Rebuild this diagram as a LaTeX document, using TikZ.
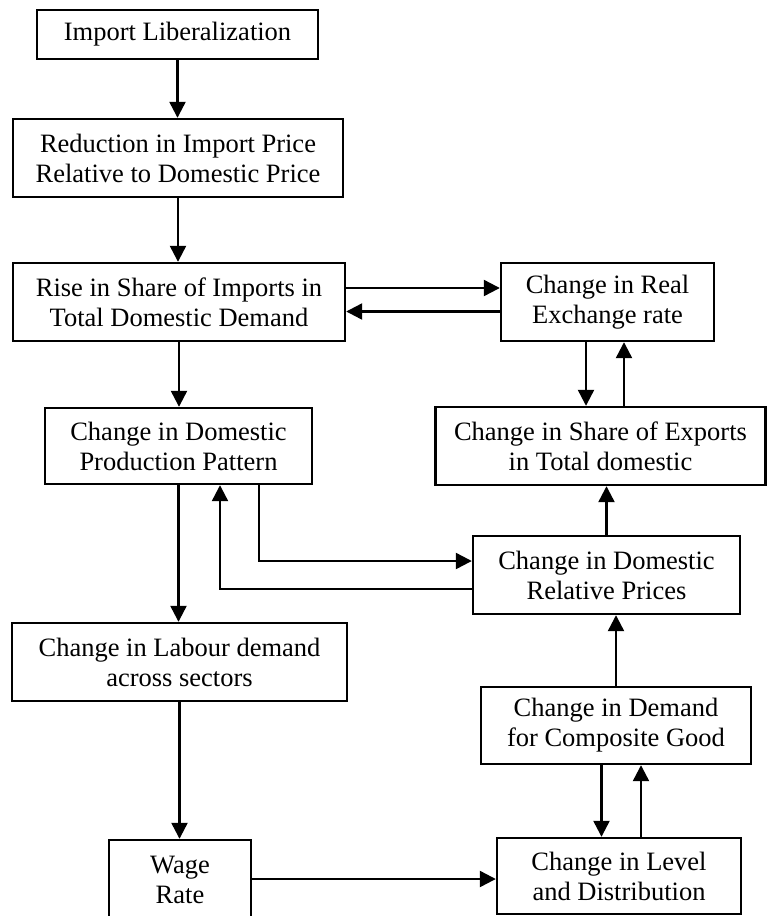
\documentclass[tikz,border=0pt]{standalone}
\usepackage{fontspec}
\setmainfont{Liberation Serif}
\usetikzlibrary{arrows.meta}
\begin{document}
\begin{tikzpicture}[x=1pt,y=1pt,
  box/.style={draw, line width=2.4pt, rectangle, inner sep=0pt, align=center,
    font=\fontsize{26.5}{30}\selectfont},
  arr/.style={line width=2.3pt, -{Triangle[length=16pt,width=16pt]}}]
\clip (0,0) rectangle (767,-916);
\fill[white] (0,0) rectangle (767,-916);
\node[box, minimum width=281pt, minimum height=49pt] (imp) at (177.5,-34.5) {Import Liberalization};
\node[box, minimum width=330pt, minimum height=78pt] (red) at (178,-158) {Reduction in Import Price\\Relative to Domestic Price};
\node[box, minimum width=332pt, minimum height=78pt] (rise) at (179,-302) {Rise in Share of Imports in\\Total Domestic Demand};
\node[box, minimum width=213pt, minimum height=78pt] (rer) at (607.5,-302) {Change in Real\\Exchange rate};
\node[box, minimum width=330pt, minimum height=78pt] (exp) at (600.5,-446) {Change in Share of Exports\\in Total domestic};
\node[box, minimum width=267pt, minimum height=76pt] (prod) at (178.5,-446) {Change in Domestic\\Production Pattern};
\node[box, minimum width=267pt, minimum height=78pt] (rel) at (606.5,-575) {Change in Domestic\\Relative Prices};
\node[box, minimum width=335pt, minimum height=78pt] (lab) at (179.5,-662) {Change in Labour demand\\across sectors};
\node[box, minimum width=270pt, minimum height=77pt] (comp) at (616,-725.5) {Change in Demand\\for Composite Good};
\node[box, minimum width=142pt, minimum height=80pt] (wage) at (180,-880) {Wage\\Rate};
\node[box, minimum width=244pt, minimum height=76pt] (level) at (619,-876) {Change in Level\\and Distribution};

\draw[arr] (imp.south) -- (imp.south |- red.north);
\draw[arr] (red.south) -- (red.south |- rise.north);
\draw[arr] ([yshift=14pt]rise.east) -- ([yshift=14pt]rer.west);
\draw[arr] ([yshift=-9.5pt]rer.west) -- ([yshift=-9.5pt]rise.east);
\draw[arr] (rise.south) -- (rise.south |- prod.north);
\draw[arr] ([xshift=-21.5pt]rer.south) -- ([xshift=-21.5pt]rer.south |- exp.north);
\draw[arr] ([xshift=16.5pt]rer.south |- exp.north) -- ([xshift=16.5pt]rer.south);
\draw[arr] ([xshift=80.5pt]prod.south) |- ([yshift=14pt]rel.west);
\draw[arr] ([yshift=-14pt]rel.west) -| ([xshift=41.5pt]prod.south);
\draw[arr] (rel.north) -- (rel.north |- exp.south);
\draw[arr] (prod.south) -- (prod.south |- lab.north);
\draw[arr] (comp.north) -- (comp.north |- rel.south);
\draw[arr] ([xshift=-14.5pt]comp.south) -- ([xshift=-14.5pt]comp.south |- level.north);
\draw[arr] ([xshift=25pt]comp.south |- level.north) -- ([xshift=25pt]comp.south);
\draw[arr] (lab.south) -- (lab.south |- wage.north);
\draw[arr] (wage.east |- 0,-879) -- (level.west |- 0,-879);
\end{tikzpicture}
\end{document}
